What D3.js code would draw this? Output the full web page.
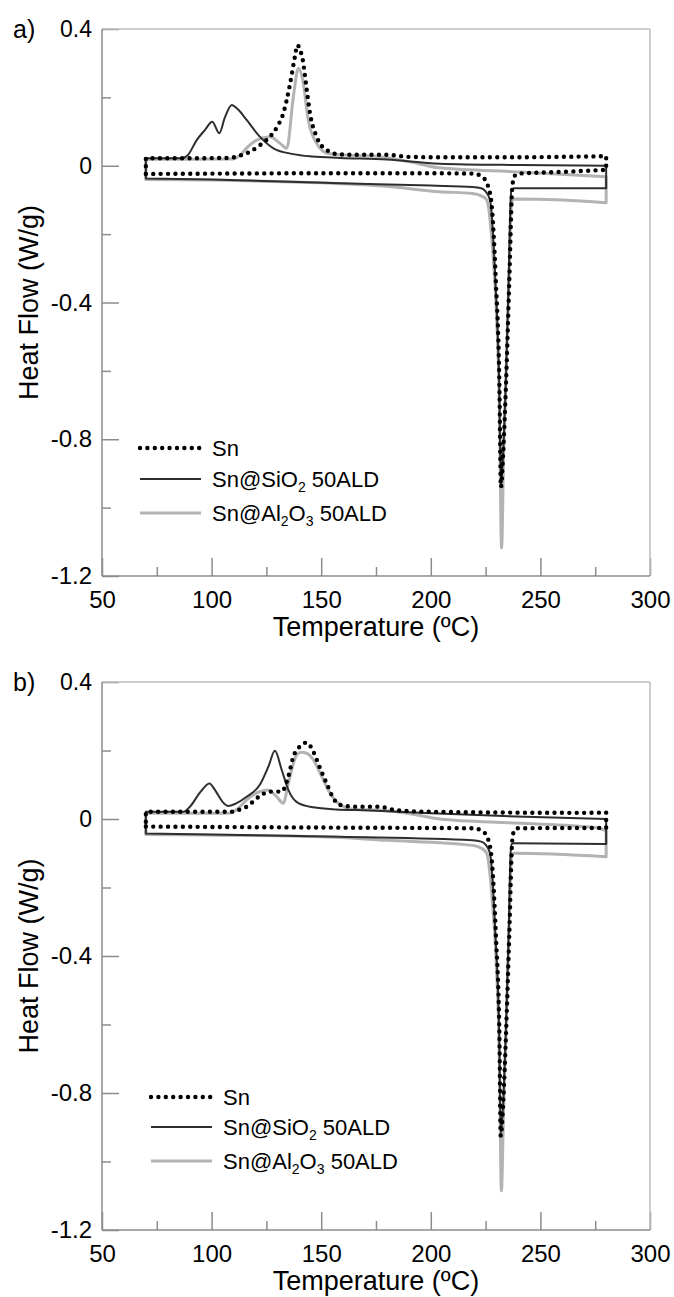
<!DOCTYPE html>
<html>
<head>
<meta charset="utf-8">
<script src="https://cdn.jsdelivr.net/npm/d3@7"></script>
<style>
  body { margin: 0; background: #fff; }
  text { font-family: "Liberation Sans", Arial, sans-serif; fill: #000; }
</style>
</head>
<body>
<div id="chart"></div>
<script>
// axis ticks
const tempTicks = [50, 100, 150, 200, 250, 300]
const tempMinor = [75, 125, 175, 225, 275]
const flowTicks = [0.4, 0, -0.4, -0.8, -1.2]
const flowMinor = [0.2, -0.2, -0.6, -1.0]

const seriesNames = ['Sn', 'Sn@SiO2 50ALD', 'Sn@Al2O3 50ALD']

// panel a) -- [temperature, heat flow], heating branch (lower) and cooling branch (upper)
const snA_heat = [[70,-0.024],[100,-0.023],[150,-0.022],[200,-0.022],[219,-0.023],[223,-0.03],[225.5,-0.05],[227.5,-0.1],[229.7,-0.34],[231.3,-0.64],[232,-0.94],[233.1,-0.83],[234.3,-0.64],[235.8,-0.34],[237.2,-0.06],[238.2,-0.03],[240,-0.023],[260,-0.018],[280,-0.012]]
const snA_cool = [[70,0.022],[90,0.022],[108,0.023],[113,0.03],[117.5,0.041],[122,0.06],[126.6,0.085],[130,0.115],[132.7,0.153],[135.8,0.24],[138,0.319],[139.1,0.353],[140.3,0.34],[141.6,0.309],[143.4,0.222],[144.9,0.153],[147.9,0.085],[152.5,0.046],[158.6,0.033],[170,0.032],[180,0.032],[190,0.026],[200,0.025],[240,0.025],[270,0.027],[280,0.028]]
const siA_heat = [[70,-0.037],[100,-0.04],[158.6,-0.051],[200,-0.058],[219,-0.062],[223,-0.066],[225,-0.075],[227,-0.1],[229.5,-0.34],[231.2,-0.64],[232,-0.935],[233.1,-0.83],[234.2,-0.64],[235.5,-0.34],[236.4,-0.1],[236.9,-0.07],[238,-0.066],[280,-0.066]]
const siA_cool = [[70,0.022],[86.4,0.022],[89,0.03],[93.2,0.075],[97,0.105],[100.3,0.129],[103.5,0.095],[106,0.14],[109.2,0.178],[112,0.165],[116,0.134],[122,0.085],[128.2,0.051],[137.3,0.034],[146,0.027],[158.6,0.023],[180,0.018],[204,0.006],[240,0.002],[280,0.0]]
const alA_heat = [[70,-0.04],[100,-0.042],[150,-0.05],[180,-0.06],[204,-0.076],[219,-0.081],[223,-0.088],[225.5,-0.1],[228.2,-0.246],[229.7,-0.4],[231.3,-0.7],[232.3,-1.118],[233.2,-0.85],[234.4,-0.6],[235.8,-0.3],[236.8,-0.11],[238,-0.097],[260,-0.1],[280,-0.108]]
const alA_cool = [[70,0.019],[110,0.02],[113,0.031],[116.5,0.055],[120.6,0.075],[126.6,0.085],[131.2,0.066],[134.3,0.051],[137.3,0.202],[139.6,0.285],[141.6,0.25],[144.1,0.134],[147.9,0.066],[153.2,0.036],[165,0.03],[175,0.028],[190,0.012],[204,-0.006],[240,-0.018],[280,-0.032]]

// panel b)
const snB_heat = [[70,-0.022],[150,-0.025],[219,-0.027],[223,-0.033],[225.5,-0.05],[227.5,-0.1],[229.7,-0.34],[231.3,-0.63],[231.9,-0.925],[233.1,-0.82],[234.3,-0.63],[235.8,-0.34],[237.2,-0.06],[238.2,-0.032],[240,-0.027],[280,-0.026]]
const snB_cool = [[70,0.021],[108.4,0.021],[112,0.026],[116,0.036],[122,0.067],[126.6,0.08],[132,0.08],[135,0.124],[137.3,0.182],[140.3,0.212],[143.4,0.223],[146.4,0.197],[149.5,0.148],[152.5,0.104],[155.5,0.061],[158.6,0.041],[165,0.036],[176,0.036],[185,0.025],[200,0.021],[270,0.018],[280,0.019]]
const siB_heat = [[70,-0.042],[158.6,-0.052],[219,-0.062],[223,-0.066],[225,-0.075],[227,-0.1],[229.5,-0.34],[231.2,-0.63],[231.9,-0.92],[233.1,-0.82],[234.2,-0.63],[235.5,-0.34],[236.4,-0.1],[236.9,-0.073],[238,-0.071],[280,-0.073]]
const siB_cool = [[70,0.021],[87.1,0.021],[90,0.035],[95,0.08],[99,0.104],[102,0.08],[105,0.05],[107.6,0.038],[111,0.045],[116,0.065],[122,0.1],[125.9,0.153],[128.9,0.199],[132,0.143],[135,0.085],[139.6,0.046],[146.4,0.034],[157,0.028],[167,0.026],[200,0.017],[239,0.007],[280,0.0]]
const alB_heat = [[70,-0.045],[150,-0.052],[180,-0.062],[219,-0.077],[223,-0.085],[225.5,-0.1],[228.2,-0.25],[229.7,-0.4],[231.3,-0.7],[232.2,-1.086],[233.2,-0.85],[234.4,-0.6],[235.8,-0.3],[236.8,-0.11],[238,-0.1],[280,-0.11]]
const alB_cool = [[70,0.017],[108,0.017],[112,0.03],[116,0.056],[122,0.08],[125.9,0.085],[129.7,0.065],[132.7,0.046],[135,0.104],[138.8,0.187],[141,0.195],[143.4,0.192],[146.4,0.173],[149.5,0.134],[153.2,0.085],[157.8,0.046],[165,0.028],[176,0.026],[190,0.016],[204,0.0],[239,-0.012],[275,-0.025],[280,-0.035]]

const W = 674, H = 1297
const plotLeft = 102, plotRight = 650

const svg = d3.select('#chart').append('svg')
    .attr('width', W)
    .attr('height', H)

const x = d3.scaleLinear().domain([50, 300]).range([plotLeft, plotRight])

// line styles, drawn in this order (grey under black, dots on top)
const styles = [
    { idx: 2, stroke: '#b3b3b3', width: 3, dash: null },
    { idx: 1, stroke: '#2e2e2e', width: 2, dash: null },
    { idx: 0, stroke: '#000', width: 4.4, dash: '0 7.4' }
]

const panels = [
    { label: 'a)', top: 29, bottom: 576, legendX: 138, legendY: [448, 479, 513],
      data: [[snA_heat, snA_cool], [siA_heat, siA_cool], [alA_heat, alA_cool]] },
    { label: 'b)', top: 682, bottom: 1230, legendX: 149, legendY: [1097, 1127, 1161],
      data: [[snB_heat, snB_cool], [siB_heat, siB_cool], [alB_heat, alB_cool]] }
]

function fmt(d) { return d === 0 ? '0' : d.toFixed(1) }

panels.forEach(function(p) {
    const y = d3.scaleLinear().domain([-1.2, 0.4]).range([p.bottom, p.top])
    const g = svg.append('g')

    // y axis, ticks pointing inward
    const yMajor = g.append('g')
        .attr('transform', 'translate(' + plotLeft + ',0)')
        .call(d3.axisLeft(y).tickValues(flowTicks).tickSize(-17).tickPadding(10).tickFormat(fmt))
    const yMinor = g.append('g')
        .attr('transform', 'translate(' + plotLeft + ',0)')
        .call(d3.axisLeft(y).tickValues(flowMinor).tickSize(-9).tickFormat(''))

    // x axis
    const xMajor = g.append('g')
        .attr('transform', 'translate(0,' + p.bottom + ')')
        .call(d3.axisBottom(x).tickValues(tempTicks).tickSize(-18).tickPadding(15))
    const xMinor = g.append('g')
        .attr('transform', 'translate(0,' + p.bottom + ')')
        .call(d3.axisBottom(x).tickValues(tempMinor).tickSize(-9).tickFormat(''))

    ;[yMajor, yMinor, xMajor, xMinor].forEach(function(a) {
        a.select('.domain').remove()
        a.selectAll('line').attr('stroke', '#8c8c8c').attr('stroke-width', 1.5)
        a.selectAll('text')
            .attr('font-family', '"Liberation Sans", Arial, sans-serif')
            .attr('font-size', 24)
    })
    // the positive labels use a Calibri-like face in the original
    yMajor.selectAll('text')
        .filter(function(d) { return d >= 0 })
        .attr('font-family', 'Lato, sans-serif')
        .attr('font-size', 23)

    // frame
    g.append('line').attr('x1', plotLeft).attr('x2', plotRight).attr('y1', p.top).attr('y2', p.top)
        .attr('stroke', '#bdbdbd').attr('stroke-width', 1.5)
    g.append('line').attr('x1', plotRight).attr('x2', plotRight).attr('y1', p.top).attr('y2', p.bottom)
        .attr('stroke', '#bdbdbd').attr('stroke-width', 1.5)
    g.append('line').attr('x1', plotLeft).attr('x2', plotLeft).attr('y1', p.top).attr('y2', p.bottom)
        .attr('stroke', '#8c8c8c').attr('stroke-width', 1.5)
    g.append('line').attr('x1', plotLeft).attr('x2', plotRight).attr('y1', p.bottom).attr('y2', p.bottom)
        .attr('stroke', '#8c8c8c').attr('stroke-width', 1.5)

    // DSC loops: heating 70 -> 280, up at 280, cooling 280 -> 70, closed at 70
    const line = d3.line()
        .x(function(d) { return x(d[0]) })
        .y(function(d) { return y(d[1]) })
        .curve(d3.curveMonotoneX)

    styles.forEach(function(s) {
        const heat = p.data[s.idx][0]
        const cool = p.data[s.idx][1].slice().reverse()
        const d = line(heat) + line(cool).replace(/^M/, 'L') + 'Z'
        g.append('path')
            .attr('d', d)
            .attr('fill', 'none')
            .attr('stroke', s.stroke)
            .attr('stroke-width', s.width)
            .attr('stroke-linecap', s.dash ? 'round' : 'butt')
            .attr('stroke-linejoin', 'round')
            .attr('stroke-dasharray', s.dash)
    })

    // legend
    const lg = g.append('g')
    ;[0, 1, 2].forEach(function(i) {
        const s = styles.find(function(st) { return st.idx === i })
        const ly = p.legendY[i]
        lg.append('line')
            .attr('x1', p.legendX + 2).attr('x2', p.legendX + 63)
            .attr('y1', ly).attr('y2', ly)
            .attr('stroke', s.stroke)
            .attr('stroke-width', s.width)
            .attr('stroke-linecap', s.dash ? 'round' : 'butt')
            .attr('stroke-dasharray', s.dash)
        const t = lg.append('text')
            .attr('x', p.legendX + 74)
            .attr('y', ly + 8)
            .attr('font-size', 22)
        if (i === 0) {
            t.text(seriesNames[0])
        } else if (i === 1) {
            t.append('tspan').text('Sn@SiO')
            t.append('tspan').attr('font-size', 14).attr('dy', 5).text('2')
            t.append('tspan').attr('dy', -5).text(' 50ALD')
        } else {
            t.append('tspan').text('Sn@Al')
            t.append('tspan').attr('font-size', 14).attr('dy', 5).text('2')
            t.append('tspan').attr('dy', -5).text('O')
            t.append('tspan').attr('font-size', 14).attr('dy', 5).text('3')
            t.append('tspan').attr('dy', -5).text(' 50ALD')
        }
    })

    // axis titles
    g.append('text')
        .attr('x', (plotLeft + plotRight) / 2)
        .attr('y', p.bottom + 60)
        .attr('text-anchor', 'middle')
        .attr('font-size', 27)
        .text('Temperature (ºC)')
    g.append('text')
        .attr('transform', 'translate(38,' + ((p.top + p.bottom) / 2) + ') rotate(-90)')
        .attr('text-anchor', 'middle')
        .attr('font-size', 27)
        .text('Heat Flow (W/g)')

    // panel letter
    g.append('text')
        .attr('x', 13)
        .attr('y', p.top + 9)
        .attr('font-family', 'Lato, sans-serif')
        .attr('font-size', 25)
        .text(p.label)
})
</script>
</body>
</html>
